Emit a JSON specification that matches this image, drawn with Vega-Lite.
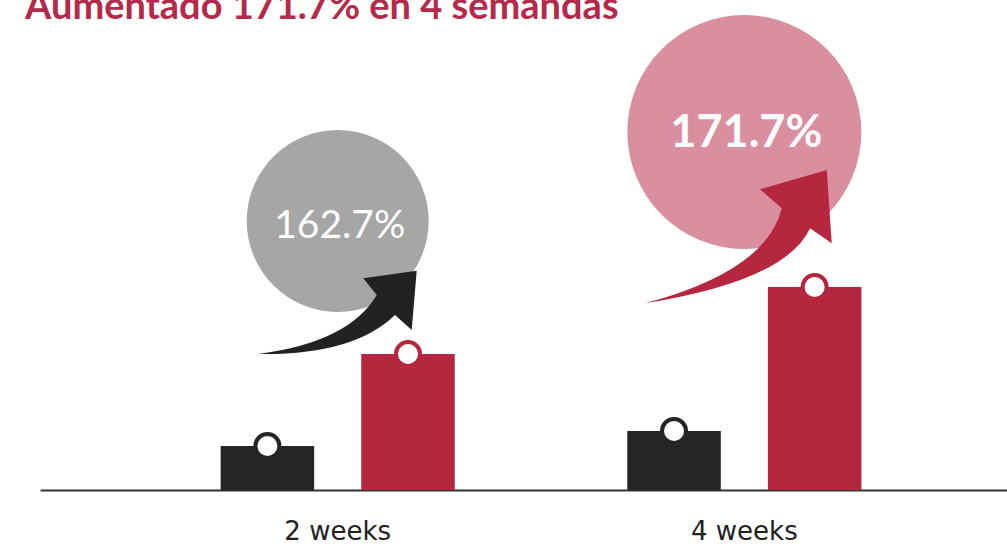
{
  "$schema": "https://vega.github.io/schema/vega-lite/v6.json",
  "width": 967,
  "height": 460,
  "autosize": "none",
  "padding": {"left": 40, "top": 30, "right": 0, "bottom": 56},
  "background": "white",
  "config": {"view": {"stroke": null}},
  "title": {
    "text": "Aumentado 171.7% en 4 semandas",
    "anchor": "start",
    "frame": "group",
    "dx": -15,
    "dy": 42,
    "font": "Lato",
    "fontSize": 38,
    "fontWeight": "bold",
    "color": "#b5294a",
    "baseline": "alphabetic",
    "offset": 0
  },
  "datasets": {
    "bars": [
      {"group": "2 weeks", "series": "antes", "value": 44},
      {"group": "2 weeks", "series": "después", "value": 136},
      {"group": "4 weeks", "series": "antes", "value": 59},
      {"group": "4 weeks", "series": "después", "value": 203}
    ],
    "bubbles": [
      {"group": "2 weeks", "pct": 162.7, "label": "162.7%", "cy": 269, "ty": 252, "tip": 219.3},
      {"group": "4 weeks", "pct": 171.7, "label": "171.7%", "cy": 358, "ty": 343.3, "tip": 320}
    ]
  },
  "encoding": {
    "x": {
      "field": "group",
      "type": "nominal",
      "sort": ["2 weeks", "4 weeks"],
      "scale": {"paddingInner": 0, "paddingOuter": 0.189, "align": 0.614},
      "axis": {
        "title": null,
        "domainColor": "#333333",
        "domainWidth": 2,
        "ticks": false,
        "labelAngle": 0,
        "labelFont": "DejaVu Sans",
        "labelFontSize": 26,
        "labelColor": "#222222",
        "labelBaseline": "alphabetic",
        "labelPadding": 49,
        "grid": false
      }
    }
  },
  "layer": [
    {
      "data": {"name": "bubbles"},
      "transform": [{"filter": "datum.group === '2 weeks'"}],
      "mark": {"type": "point", "shape": "circle", "filled": true, "opacity": 1, "size": 33124, "color": "#a6a6a6"},
      "encoding": {
        "y": {"field": "cy", "type": "quantitative", "scale": {"domain": [0, 460], "nice": false}, "axis": null}
      }
    },
    {
      "data": {"name": "bubbles"},
      "transform": [{"filter": "datum.group === '4 weeks'"}],
      "mark": {"type": "point", "shape": "circle", "filled": true, "opacity": 1, "size": 54756, "color": "#d98fa0"},
      "encoding": {
        "y": {"field": "cy", "type": "quantitative", "axis": null}
      }
    },
    {
      "data": {"name": "bubbles"},
      "transform": [{"filter": "datum.group === '2 weeks'"}],
      "mark": {"type": "text", "font": "Lato", "fontSize": 39, "fontWeight": "normal", "color": "#ffffff", "align": "center", "baseline": "alphabetic", "dx": 2},
      "encoding": {
        "y": {"field": "ty", "type": "quantitative", "axis": null},
        "text": {"field": "label"}
      }
    },
    {
      "data": {"name": "bubbles"},
      "transform": [{"filter": "datum.group === '4 weeks'"}],
      "mark": {"type": "text", "font": "Lato", "fontSize": 45, "fontWeight": "bold", "color": "#ffffff", "align": "center", "baseline": "alphabetic", "dx": 2},
      "encoding": {
        "y": {"field": "ty", "type": "quantitative", "axis": null},
        "text": {"field": "label"}
      }
    },
    {
      "data": {"name": "bubbles"},
      "transform": [{"filter": "datum.group === '2 weeks'"}],
      "mark": {"type": "point", "filled": true, "opacity": 1, "size": 4, "color": "#222222",
        "shape": "M -79.4 83.3 Q 11.4 71.4 39 24.3 L 25.6 7.6 L 79 0 L 74 59.3 L 57.3 44.3 Q 15.65 84.8 -79.4 83.3 Z"},
      "encoding": {
        "y": {"field": "tip", "type": "quantitative", "axis": null}
      }
    },
    {
      "data": {"name": "bubbles"},
      "transform": [{"filter": "datum.group === '4 weeks'"}],
      "mark": {"type": "point", "filled": true, "opacity": 1, "size": 4, "color": "#b5273f",
        "shape": "M -99.3 133.3 Q 22.35 100.8 37.4 38.3 L 15.7 19.3 L 82.4 0 L 87.4 73.3 L 65.7 58.3 Q 41.6 110.8 -99.3 133.3 Z"},
      "encoding": {
        "y": {"field": "tip", "type": "quantitative", "axis": null}
      }
    },
    {
      "data": {"name": "bars"},
      "mark": {"type": "bar"},
      "encoding": {
        "xOffset": {"field": "series", "type": "nominal", "scale": {"domain": ["antes", "después"], "paddingInner": 0.335, "paddingOuter": 0.6135}},
        "y": {"field": "value", "type": "quantitative", "axis": null},
        "color": {"field": "series", "type": "nominal", "scale": {"domain": ["antes", "después"], "range": ["#252525", "#b5273f"]}, "legend": null}
      }
    },
    {
      "data": {"name": "bars"},
      "mark": {"type": "point", "shape": "circle", "filled": true, "fill": "#ffffff", "opacity": 1, "size": 576, "strokeWidth": 4},
      "encoding": {
        "xOffset": {"field": "series", "type": "nominal"},
        "y": {"field": "value", "type": "quantitative", "axis": null},
        "stroke": {"field": "series", "type": "nominal", "scale": {"domain": ["antes", "después"], "range": ["#252525", "#b5273f"]}, "legend": null}
      }
    }
  ]
}
